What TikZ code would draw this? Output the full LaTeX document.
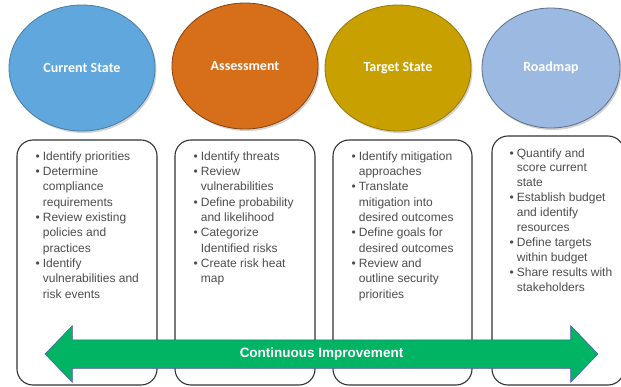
\documentclass[tikz,border=0pt]{standalone}
\usepackage{fontspec}
\setmainfont{Liberation Sans}
\newfontfamily\calibri{Carlito}
\usepackage{tikz}
\usetikzlibrary{positioning,shapes.geometric,shapes.arrows,shadows}

\definecolor{curblue}{HTML}{5FA7DC}
\definecolor{riskorange}{HTML}{D76E19}
\definecolor{targetgold}{HTML}{C8A000}
\definecolor{roadblue}{HTML}{9BB9E1}
\definecolor{loopgreen}{HTML}{00B464}

\begin{document}
\begin{tikzpicture}[x=1pt,y=-1pt,
        phase/.style={ellipse,minimum width=146pt,minimum height=126pt,line width=0.8pt,
          text=white,font=\calibri\bfseries\fontsize{14}{16}\selectfont,
          drop shadow={shadow xshift=1.5pt,shadow yshift=-2pt,opacity=0.3,fill=black!60}},
        stagebox/.style={draw=black!80,line width=1.1pt,rounded corners=16pt,
          minimum width=140pt,minimum height=245pt,inner sep=0pt},
        itemlist/.style={anchor=north west,inner sep=0pt,text=black!70,
          font=\fontsize{12}{15.3}\selectfont},
        looparrow/.style={double arrow,fill=loopgreen,draw=blue!35!gray,line width=0.5pt,
          double arrow head extend=14pt,double arrow tip angle=92,
          minimum height=553pt,inner ysep=8.25pt,text height=9pt,text depth=2.5pt,
          text=white,font=\bfseries\fontsize{13.5}{16}\selectfont}]

  \useasboundingbox (0,0) rectangle (621,387);

  % phases
  \node[phase,fill=curblue,draw=curblue!75!black]     (current) at (82,68)  {Current State};
  \node[phase,fill=riskorange,draw=riskorange!60!black] (assess) at (245,66) {Assessment};
  \node[phase,fill=targetgold,draw=targetgold!75!black] (target) at (398,68) {Target State};
  \node[phase,fill=roadblue,draw=roadblue!60!black,minimum width=138pt,minimum height=120pt]
        (roadmap) at (551,68) {Roadmap};

  % boxes under the phases
  \node[stagebox] (box1) at (87,262.5) {};
  \node[stagebox] (box2) at (245,262.5) {};
  \node[stagebox,minimum width=139pt] (box3) at (402.5,262.5) {};
  \node[stagebox,minimum width=132pt,minimum height=249pt] (box4) at (558,260.5) {};

  \node[itemlist] (list1) at ([xshift=19pt,yshift=-10pt]box1.north west) {%
    \begin{tabular}{@{}l@{\hspace{3pt}}l@{}}
      \textbullet & Identify priorities\\
      \textbullet & Determine\\
                  & compliance\\
                  & requirements\\
      \textbullet & Review existing\\
                  & policies and\\
                  & practices\\
      \textbullet & Identify\\
                  & vulnerabilities and\\
                  & risk events
    \end{tabular}};
  \node[itemlist] (list2) at ([xshift=19pt,yshift=-10pt]box2.north west) {%
    \begin{tabular}{@{}l@{\hspace{3pt}}l@{}}
      \textbullet & Identify threats\\
      \textbullet & Review\\
                  & vulnerabilities\\
      \textbullet & Define probability\\
                  & and likelihood\\
      \textbullet & Categorize\\
                  & Identified risks\\
      \textbullet & Create risk heat\\
                  & map
    \end{tabular}};
  \node[itemlist] (list3) at ([xshift=19pt,yshift=-10pt]box3.north west) {%
    \begin{tabular}{@{}l@{\hspace{3pt}}l@{}}
      \textbullet & Identify mitigation\\
                  & approaches\\
      \textbullet & Translate\\
                  & mitigation into\\
                  & desired outcomes\\
      \textbullet & Define goals for\\
                  & desired outcomes\\
      \textbullet & Review and\\
                  & outline security\\
                  & priorities
    \end{tabular}};
  \node[itemlist,font=\fontsize{12}{14.9}\selectfont] (list4) at ([xshift=18pt,yshift=-11pt]box4.north west) {%
    \begin{tabular}{@{}l@{\hspace{3pt}}l@{}}
      \textbullet & Quantify and\\
                  & score current\\
                  & state\\
      \textbullet & Establish budget\\
                  & and identify\\
                  & resources\\
      \textbullet & Define targets\\
                  & within budget\\
      \textbullet & Share results with\\
                  & stakeholders
    \end{tabular}};

  % improvement loop
  \node[looparrow] (improve) at (321.5,354) {Continuous Improvement};

\end{tikzpicture}
\end{document}
